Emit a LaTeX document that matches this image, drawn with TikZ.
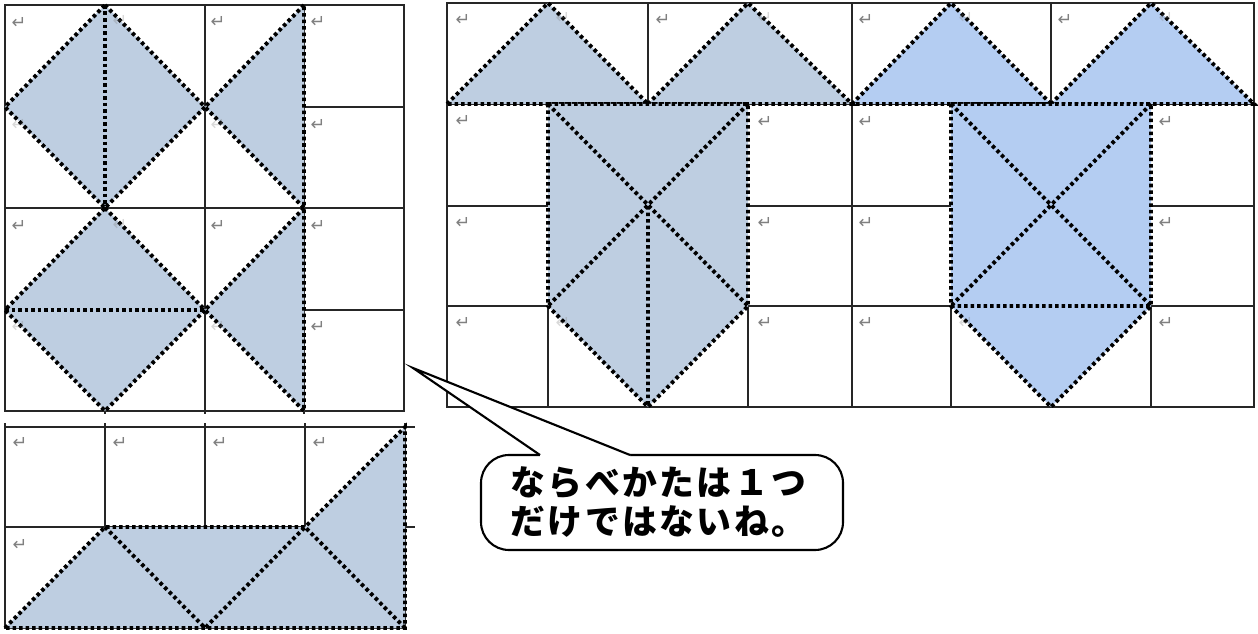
\documentclass[tikz,border=0pt]{standalone}
\usepackage{fontspec}
\usepackage{xcolor}
\usepackage{tikz}
\usetikzlibrary{positioning}

\newfontfamily\jpfont{Noto Sans CJK JP}[LetterSpace=7]
\newfontfamily\markfont{DejaVu Sans}
\definecolor{tileA}{RGB}{190,206,225}
\definecolor{tileB}{RGB}{180,205,242}

\begin{document}
\begin{tikzpicture}[
    x=0.01cm, y=-0.01cm,
    cell/.style={draw=black!85, line width=0.4pt},
    pieceA/.style={fill=tileA, draw=black, line width=1.1pt, dash pattern=on 1pt off 0.85pt},
    pieceB/.style={fill=tileB, draw=black, line width=1.1pt, dash pattern=on 1pt off 0.85pt},
    cut/.style={draw=black, line width=1.1pt, dash pattern=on 1pt off 0.85pt},
    retmark/.style={font=\markfont\fontsize{5}{6}\selectfont, text=black!50, inner sep=0},
    faint/.style={retmark, text opacity=0.3},
    note/.style={font=\jpfont\bfseries\fontsize{9.9}{11.1}\selectfont, align=left, anchor=west, inner sep=0},
    balloon/.style={draw=black, line width=0.6pt, fill=white}
]
    \useasboundingbox (0,0) rectangle (1258,634);

    % grid, left top
    \draw [cell] (5,5) rectangle (404,411);
    \draw [cell] (5,208) -- (404,208);
    \draw [cell] (205,5) -- (205,414) (304,5) -- (304,414) (105,411) -- (105,414);
    \draw [cell] (304,107) -- (404,107) (304,310) -- (404,310);

    % grid, left bottom
    \draw [cell] (5,427) -- (415,427) (5,527) -- (415,527);
    \draw [cell] (5,423) -- (5,628) -- (405,628) -- (405,423);
    \draw [cell] (105,423) -- (105,527) (205,423) -- (205,527) (305,423) -- (305,527);

    % grid, right
    \draw [cell] (447,3) rectangle (1254,407);
    \draw [cell] (852,3) -- (852,407) (447,104) -- (1254,104);
    \draw [cell] (648,3) -- (648,104) (1051,3) -- (1051,104);
    \foreach \y in {206,306}
        \draw [cell] (447,\y) -- (548,\y) (748,\y) -- (951,\y) (1151,\y) -- (1254,\y);
    \foreach \x in {548,748,951,1151}
        \draw [cell] (\x,306) -- (\x,407);

    % return marks
    \foreach \x/\y [count=\i] in {19/23,218/22,318/22,318/125,19/226,218/226,318/226,318/327,
        20/443,120/443,220/443,320/443,20/545,
        463/20,663/20,463/121,765/122,463/223,765/223,463/323,765/323,
        866/20,1065/20,866/122,1166/122,866/223,1166/223,866/323,1166/323}
        \node [retmark] (m\i) at (\x,\y) {↵};

    % left top
    \path [pieceA] (105,5) -- (205,107) -- (105,208) -- (5,107) -- cycle;
    \draw [cut] (105,5) -- (105,208);
    \path [pieceA] (304,5) -- (205,107) -- (304,208) -- cycle;
    \path [pieceA] (105,208) -- (205,310) -- (105,411) -- (5,310) -- cycle;
    \draw [cut] (5,310) -- (205,310);
    \path [pieceA] (304,208) -- (205,310) -- (304,411) -- cycle;

    % left bottom
    \path [pieceA] (5,628) -- (105,527) -- (305,527) -- (405,427) -- (405,628) -- cycle;
    \draw [cut] (105,527) -- (205,628) -- (305,527) -- (405,628);

    % right, first way
    \path [pieceA] (447,104) -- (548,3) -- (648,104) -- cycle;
    \path [pieceA] (648,104) -- (748,3) -- (852,104) -- cycle;
    \path [pieceA] (548,104) -- (748,104) -- (748,306) -- (648,407) -- (548,306) -- cycle;
    \draw [cut] (548,104) -- (748,306) (748,104) -- (548,306) (648,206) -- (648,407);

    % right, second way
    \path [pieceB] (852,104) -- (951,3) -- (1051,104) -- cycle;
    \path [pieceB] (1051,104) -- (1151,3) -- (1254,104) -- cycle;
    \path [pieceB] (951,104) -- (1151,104) -- (1151,306) -- (1051,407) -- (951,306) -- cycle;
    \draw [cut] (951,104) -- (1151,306) (1151,104) -- (951,306) (951,306) -- (1151,306);

    % marks seen through the pieces
    \foreach \x/\y [count=\i] in {120/21,19/125,218/125,120/225,19/327,218/327,
        563/18,765/18,563/323,966/18,1166/18,966/323}
        \node [faint] (f\i) at (\x,\y) {↵};

    % speech balloon
    \coordinate (tip) at (413,368);
    \coordinate (pl) at (540,455);
    \coordinate (pr) at (630,455);
    \draw [balloon, rounded corners=0.28cm] (481,455) rectangle (843,550);
    \fill [white] (tip) -- (pr) -- ([yshift=-0.04cm]pr) -- ([yshift=-0.04cm]pl) -- (pl) -- cycle;
    \draw [balloon, fill=none, line join=miter] (pl) -- (tip) -- (pr);
    \node [note] (msg) at (510,502) {ならべかたは１つ\\だけではないね。};
\end{tikzpicture}
\end{document}
